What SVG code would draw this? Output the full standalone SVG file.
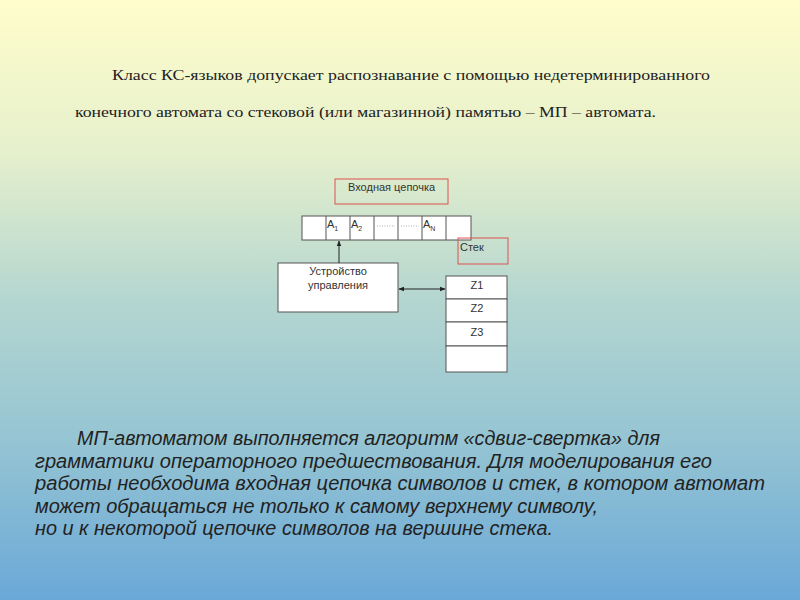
<svg xmlns="http://www.w3.org/2000/svg" width="800" height="600" viewBox="0 0 800 600">
<defs>
<linearGradient id="bg" x1="0" y1="0" x2="0" y2="1">
<stop offset="0" stop-color="#fffdcb"/>
<stop offset="0.25" stop-color="#e6f0cc"/>
<stop offset="0.5" stop-color="#b4d6d0"/>
<stop offset="0.75" stop-color="#93c3d3"/>
<stop offset="1" stop-color="#6aa8d8"/>
</linearGradient>
<marker id="ah" viewBox="0 0 10 10" refX="9" refY="5" markerWidth="6" markerHeight="6" orient="auto-start-reverse">
<path d="M0,1 L10,5 L0,9 z" fill="#222"/>
</marker>
<style>
.serif{font-family:"Liberation Serif","Times New Roman",serif;font-size:15px;fill:#222}
.small{font-family:"Liberation Sans",Arial,sans-serif;font-size:11px;fill:#333}
.box{fill:#fff;stroke:#555;stroke-width:1}
.red{fill:none;stroke:#e05050;stroke-width:1}
.it{font-family:"Liberation Sans",Arial,sans-serif;font-style:italic;font-size:20px;fill:#222}
.line{stroke:#222;stroke-width:1;fill:none}
.div{stroke:#555;stroke-width:1}
.dots{stroke:#999;stroke-width:0.8;stroke-dasharray:1,1.5}
</style>
</defs>
<rect width="800" height="600" fill="url(#bg)"/>

<g id="intro">
<text class="serif" x="112" y="80" textLength="598" lengthAdjust="spacingAndGlyphs">Класс КС-языков допускает распознавание с помощью недетерминированного</text>
<text class="serif" x="75" y="117" textLength="581" lengthAdjust="spacingAndGlyphs">конечного автомата со стековой (или магазинной) памятью – МП – автомата.</text>
</g>

<g id="input-label">
<rect class="red" x="335" y="179" width="113" height="25"/>
<text class="small" x="348" y="191">Входная цепочка</text>
</g>

<g id="tape">
<rect class="box" x="302" y="216" width="169" height="24"/>
<line class="div" x1="326" y1="216" x2="326" y2="240"/>
<line class="div" x1="350" y1="216" x2="350" y2="240"/>
<line class="div" x1="374" y1="216" x2="374" y2="240"/>
<line class="div" x1="398" y1="216" x2="398" y2="240"/>
<line class="div" x1="422" y1="216" x2="422" y2="240"/>
<line class="div" x1="446" y1="216" x2="446" y2="240"/>
<text class="small" x="327" y="228">A<tspan font-size="7" dy="3">1</tspan></text>
<text class="small" x="351" y="228">A<tspan font-size="7" dy="3">2</tspan></text>
<line class="dots" x1="377" y1="226" x2="395" y2="226"/>
<line class="dots" x1="401" y1="226" x2="419" y2="226"/>
<text class="small" x="423" y="228">A<tspan font-size="7" dy="3">N</tspan></text>
</g>

<g id="stack-label">
<rect class="red" x="458" y="238" width="50" height="26"/>
<text class="small" x="460" y="251">Стек</text>
</g>

<g id="control">
<rect class="box" x="278" y="263" width="120" height="49"/>
<text class="small" x="338" y="275" text-anchor="middle">Устройство</text>
<text class="small" x="338" y="289" text-anchor="middle">управления</text>
</g>

<g id="stack">
<rect class="box" x="446" y="276" width="61" height="23"/>
<rect class="box" x="446" y="299" width="61" height="23"/>
<rect class="box" x="446" y="322" width="61" height="24"/>
<rect class="box" x="446" y="346" width="61" height="26"/>
<text class="small" x="477" y="289" text-anchor="middle">Z1</text>
<text class="small" x="477" y="312" text-anchor="middle">Z2</text>
<text class="small" x="477" y="336" text-anchor="middle">Z3</text>
</g>

<g id="connectors">
<line class="line" x1="339" y1="263" x2="339" y2="241" marker-end="url(#ah)"/>
<line class="line" x1="399" y1="289" x2="445" y2="289" marker-start="url(#ah)" marker-end="url(#ah)"/>
</g>

<g id="description" xml:space="preserve">
<text class="it" x="77" y="445" textLength="583" lengthAdjust="spacingAndGlyphs">МП-автоматом выполняется алгоритм «сдвиг-свертка» для</text>
<text class="it" x="35" y="468" textLength="677" lengthAdjust="spacingAndGlyphs">грамматики операторного предшествования. Для моделирования его</text>
<text class="it" x="35" y="490" textLength="730" lengthAdjust="spacingAndGlyphs">работы необходима входная цепочка символов и  стек, в котором автомат</text>
<text class="it" x="35" y="513" textLength="563" lengthAdjust="spacingAndGlyphs">может обращаться не только к самому верхнему символу,</text>
<text class="it" x="35" y="535" textLength="518" lengthAdjust="spacingAndGlyphs">но и к некоторой цепочке символов на вершине стека.</text>
</g>
</svg>
